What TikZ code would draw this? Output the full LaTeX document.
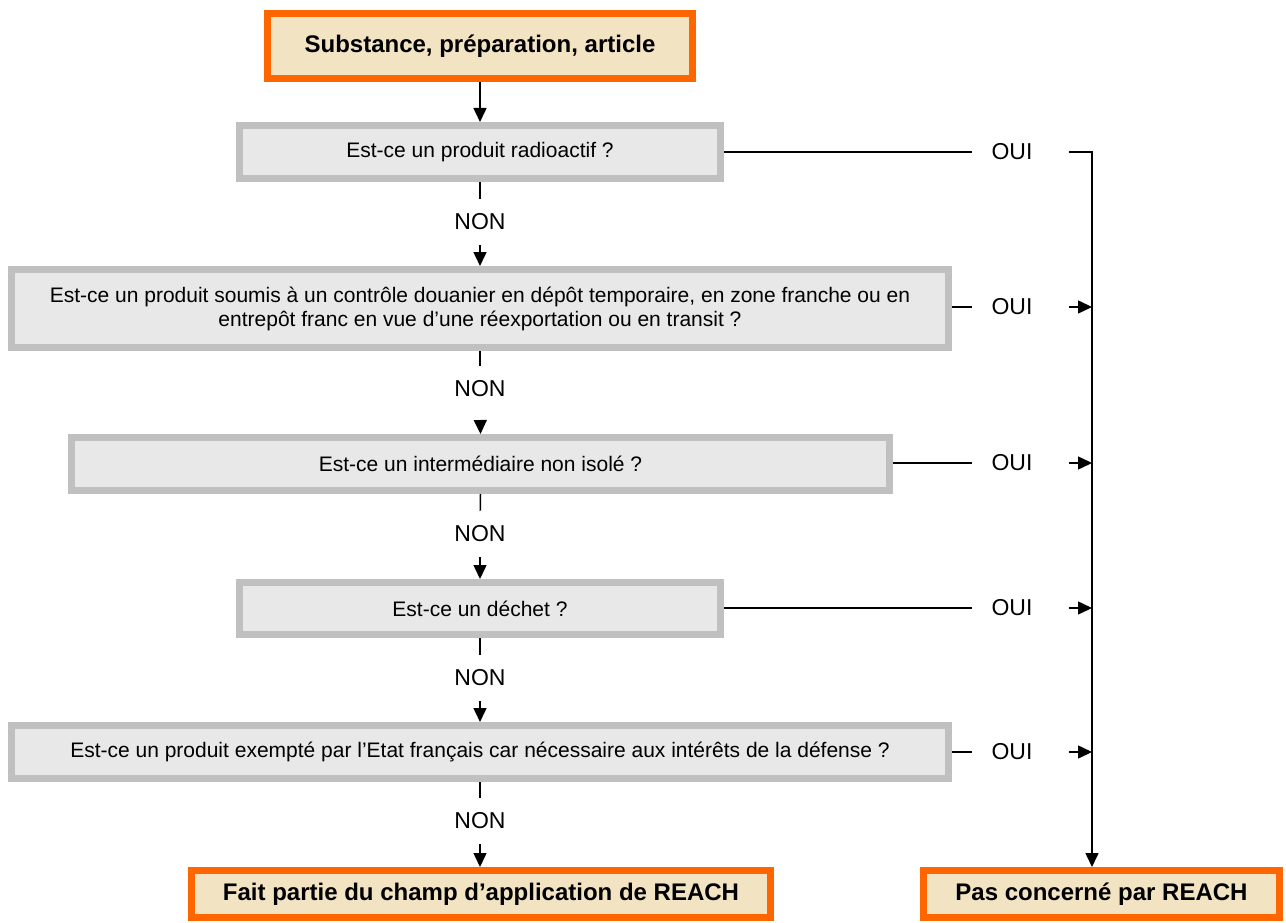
\documentclass[tikz,border=0pt]{standalone}
\usepackage{fontspec}
\setmainfont{Liberation Sans}
\usetikzlibrary{arrows.meta}

\definecolor{frameorange}{HTML}{FF6600}
\definecolor{framegray}{HTML}{C0C0C0}
\definecolor{fillbeige}{HTML}{F2E3C3}
\definecolor{fillgray}{HTML}{E8E8E8}

\tikzset{
  tri/.tip={Triangle[length=14pt,width=13pt]},
  endbox/.style={draw=frameorange, fill=fillbeige, line width=7pt, inner sep=0pt,
    font=\fontsize{24}{28}\selectfont\bfseries},
  qbox/.style={draw=framegray, fill=fillgray, line width=7pt, inner sep=0pt,
    align=center, font=\fontsize{21}{24}\selectfont},
  answer/.style={inner sep=0pt, font=\fontsize{23}{26}\selectfont},
  link/.style={line width=1.5pt},
}

\begin{document}
\begin{tikzpicture}[x=1pt, y=-1pt]
  \useasboundingbox (0,0) rectangle (1286,923);

  % start and end boxes
  \node[endbox, minimum width=425pt, minimum height=65pt] (start) at (480,46) {Substance, préparation, article};
  \node[endbox, minimum width=579pt, minimum height=47pt] (inreach) at (481,894) {Fait partie du champ d’application de REACH};
  \node[endbox, minimum width=356pt, minimum height=47pt] (notreach) at (1101.5,894) {Pas concerné par REACH};

  % question boxes
  \node[qbox, minimum width=481pt, minimum height=53pt] (q1) at (480,152) {Est-ce un produit radioactif ?};
  \node[qbox, minimum width=937pt, minimum height=78pt] (q2) at (480,308.5)
    {Est-ce un produit soumis à un contrôle douanier en dépôt temporaire, en zone franche ou en\\entrepôt franc en vue d’une réexportation ou en transit ?};
  \node[qbox, minimum width=818pt, minimum height=53pt] (q3) at (480.5,464) {Est-ce un intermédiaire non isolé ?};
  \node[qbox, minimum width=481pt, minimum height=52pt] (q4) at (480,608.5) {Est-ce un déchet ?};
  \node[qbox, minimum width=937pt, minimum height=53pt] (q5) at (480,752)
    {Est-ce un produit exempté par l’Etat français car nécessaire aux intérêts de la défense ?};

  % NON labels
  \node[answer] (n1) at (480,222) {NON};
  \node[answer] (n2) at (480,389) {NON};
  \node[answer] (n3) at (480,534) {NON};
  \node[answer] (n4) at (480,678) {NON};
  \node[answer] (n5) at (480,821) {NON};

  % OUI labels
  \node[answer] (o1) at (1012,152) {OUI};
  \node[answer] (o2) at (1012,307) {OUI};
  \node[answer] (o3) at (1012,463) {OUI};
  \node[answer] (o4) at (1012,608) {OUI};
  \node[answer] (o5) at (1012,752) {OUI};

  % collecting line on the right
  \coordinate (spinetop) at (1092,152);
  \coordinate (spinebot) at (spinetop |- notreach.north);

  % main column
  \draw[link, -tri] (start.south) -- (q1.north);
  \foreach \q/\n/\next/\gap in {q1/n1/q2/15, q2/n2/q3/26, q3/n3/q4/15, q4/n4/q5/15} {
    \draw[link, shorten >=15pt] (\q.south) -- (\n.north);
    \draw[link, -tri, shorten <=\gap pt] (\n.south) -- (\next.north);
  }
  \draw[link, shorten >=15pt] (q5.south) -- (n5.north);
  \draw[link, -tri, shorten <=15pt] (n5.south) -- (n5.south |- inreach.north);

  % OUI branches
  \foreach \q/\o in {q1/o1, q2/o2, q3/o3, q4/o4, q5/o5} {
    \draw[link, shorten >=19.5pt] (\q.east |- \o.west) -- (\o.west);
  }
  \draw[link, -tri, shorten <=36.5pt] (o1.east) -- (spinetop) -- (spinebot);
  \foreach \o in {o2, o3, o4, o5} {
    \draw[link, -tri, shorten <=36.5pt] (\o.east) -- (\o.east -| spinetop);
  }
\end{tikzpicture}
\end{document}
